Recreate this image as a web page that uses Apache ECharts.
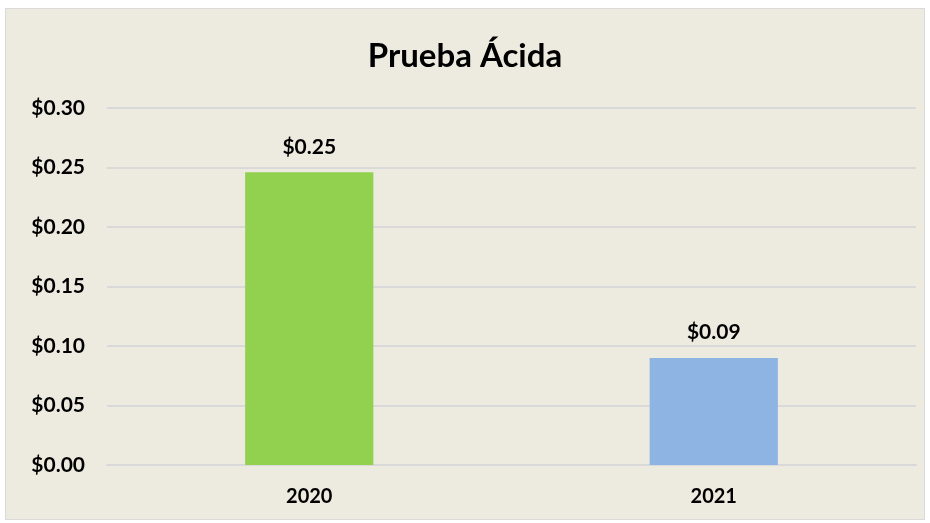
<!DOCTYPE html>
<html>
<head>
  <meta charset="UTF-8">
  <title>Prueba Ácida</title>
  <script src="https://cdn.jsdelivr.net/npm/echarts@6/dist/echarts.min.js"></script>
  <style>
    html, body { margin: 0; padding: 0; background: #ffffff; }
    #main {
      position: absolute; left: 5px; top: 8px;
      width: 918px; height: 510px;
      border: 1px solid #d9d9d9;
      background: #edebe0;
    }
  </style>
</head>
<body>
  <div id="main"></div>
  <script>
    const categories = ['2020', '2021'];
    const values = [0.246, 0.09];
    const barColors = ['#92d050', '#8eb4e3'];

    const font = 'Lato, "Open Sans", sans-serif';

    const option = {
      backgroundColor: 'transparent',
      title: {
        text: 'Prueba Ácida',
        left: 'center',
        top: 26,
        textStyle: { fontFamily: font, fontWeight: 'bold', fontSize: 33, color: '#000' }
      },
      grid: { left: 101, right: 8, top: 99, bottom: 54 },
      xAxis: {
        type: 'category',
        data: categories,
        axisLine: { lineStyle: { color: '#d9d9d9', width: 2 } },
        axisTick: { show: false },
        axisLabel: { margin: 22, fontFamily: font, fontWeight: 'bold', fontSize: 20, color: '#000' }
      },
      yAxis: {
        type: 'value',
        min: 0,
        max: 0.3,
        interval: 0.05,
        splitLine: { lineStyle: { color: '#d9d9d9', width: 2 } },
        axisLine: { show: false },
        axisTick: { show: false },
        axisLabel: {
          margin: 22,
          fontFamily: font, fontWeight: 'bold', fontSize: 21, color: '#000',
          formatter: v => '$' + v.toFixed(2)
        }
      },
      series: [{
        type: 'bar',
        barWidth: '31.7%',
        data: values.map((v, i) => ({ value: v, itemStyle: { color: barColors[i] } })),
        label: {
          show: true,
          position: 'top',
          distance: 15,
          fontFamily: font, fontWeight: 'bold', fontSize: 21, color: '#000',
          formatter: p => '$' + p.value.toFixed(2)
        }
      }]
    };

    const chart = echarts.init(document.getElementById('main'));
    chart.setOption(option);
  </script>
</body>
</html>
